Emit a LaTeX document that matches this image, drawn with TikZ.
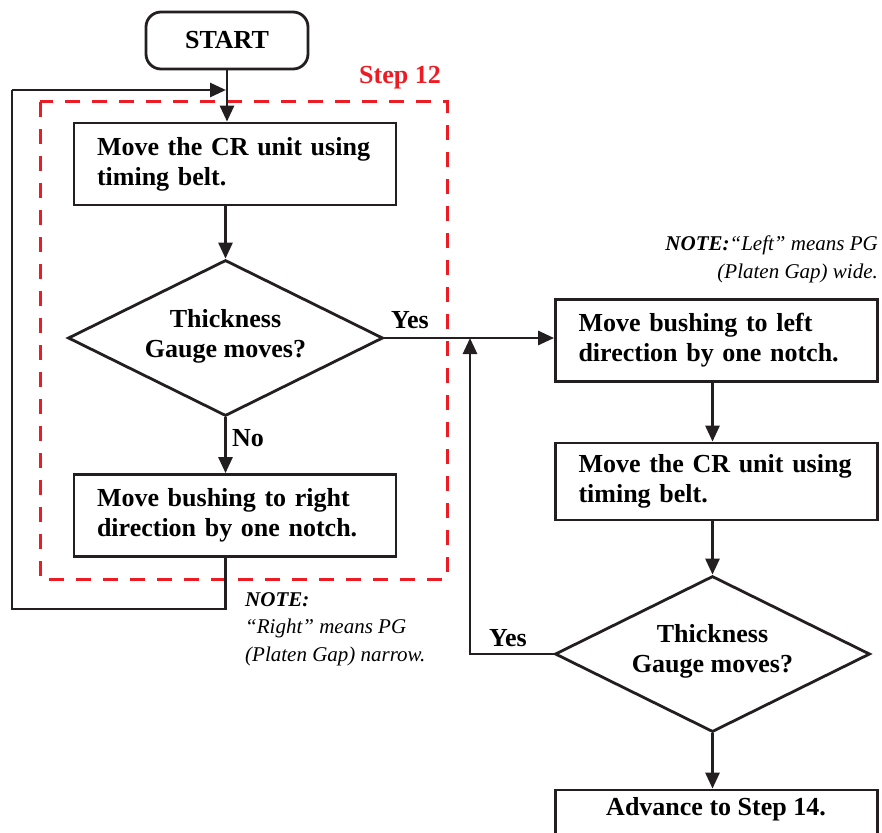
\documentclass[tikz,border=0pt]{standalone}
\usepackage{fontspec}
\setmainfont{Liberation Serif}
\usetikzlibrary{shapes.geometric,arrows.meta}
\definecolor{ink}{RGB}{35,31,32}
\definecolor{stepred}{RGB}{237,28,36}
\begin{document}
\begin{tikzpicture}[x=1pt,y=-1pt,
  bigfont/.style={font=\fontsize{26}{30}\selectfont\bfseries},
  box/.style={draw=ink, rectangle, line width=2.8pt, minimum width=322pt, minimum height=82pt,
    text width=276pt, align=left, inner sep=0pt, bigfont, text=black},
  dia/.style={draw=ink, diamond, line width=2.8pt, inner sep=0pt, minimum width=315pt, minimum height=156pt},
  ttext/.style={bigfont, align=center, inner sep=0pt, text=black},
  lbl/.style={bigfont, inner sep=0pt, text=black},
  notefont/.style={font=\fontsize{21}{27.5}\selectfont\itshape, inner sep=0pt, text=black},
  arr/.style={draw=ink, line width=2.8pt, -{Triangle[length=16pt,width=14pt]}},
  ln/.style={draw=ink, line width=2.8pt},
  stepbox/.style={draw=stepred, line width=3pt, dash pattern=on 15pt off 12pt}
]
\useasboundingbox (0,0) rectangle (882,832);
\clip (0,0) rectangle (882,832);

% Step 12 dashed frame
\draw[stepbox] (40,102) rectangle (447,579);
\node[bigfont, text=stepred, inner sep=0pt] (steplbl) at (400,78) {Step 12};

% Nodes
\node[draw=ink, line width=2.8pt, rounded corners=15pt, minimum width=162pt, minimum height=57pt,
  inner sep=0pt, bigfont] (start) at (227,40.5) {START};
\node[box] (b1) at (235,164) {Move the CR unit using\\timing belt.};
\node[dia] (d1) at (225.5,338) {};
\node[ttext] (d1t) at (225.5,336) {Thickness\\Gauge moves?};
\node[box] (b3) at (235,515.5) {Move bushing to right\\direction by one notch.};

\node[box] (b4) at (716.5,340.5) {Move bushing to left\\direction by one notch.};
\node[box, minimum height=77pt] (b5) at (716.5,481.5) {Move the CR unit using\\timing belt.};
\node[dia] (d2) at (712.5,654) {};
\node[ttext] (d2t) at (712.5,651) {Thickness\\Gauge moves?};
\node[draw=ink, line width=2.8pt, minimum width=322pt, minimum height=80pt, inner sep=0pt] (b6) at (716.5,830) {};
\node[lbl] (b6t) at (716,809) {Advance to Step 14.};

% Labels
\node[lbl] (yes1) at (410,320) {Yes};
\node[lbl] (no1) at (248,438) {No};
\node[lbl] (yes2) at (508,638) {Yes};

% Notes
\node[notefont, anchor=north west, align=left] (noteL) at (245,592)
  {\textbf{NOTE:}\\``Right'' means PG\\(Platen Gap) narrow.};
\node[notefont, anchor=north east, align=right] (noteR) at (878,236)
  {\textbf{NOTE:}``Left'' means PG\\(Platen Gap) wide.};

% Coordinates
\coordinate (lp1) at (12,609);
\coordinate (lp2) at (12,90);
\coordinate (lp3) at (226,90);
\coordinate (yj) at (470,338);

% Connectors
\draw[arr] (start.south) -- (b1.north -| start.south);
\draw[arr] (b1.south -| d1.north) -- (d1.north);
\draw[arr] (d1.south) -- (b3.north -| d1.south);
\draw[arr] (d1.east) -- (b4.west |- d1.east);
\draw[ln] (b3.south -| d1.south) -- (d1.south |- lp1) -- (lp1) -- (lp2);
\draw[arr] (lp2) -- (lp3);
\draw[arr] (b4.south -| d2.north) -- (b5.north -| d2.north);
\draw[arr] (b5.south -| d2.north) -- (d2.north);
\draw[arr] (d2.west) -| (yj);
\draw[arr] (d2.south) -- (b6.north -| d2.south);
\end{tikzpicture}
\end{document}
